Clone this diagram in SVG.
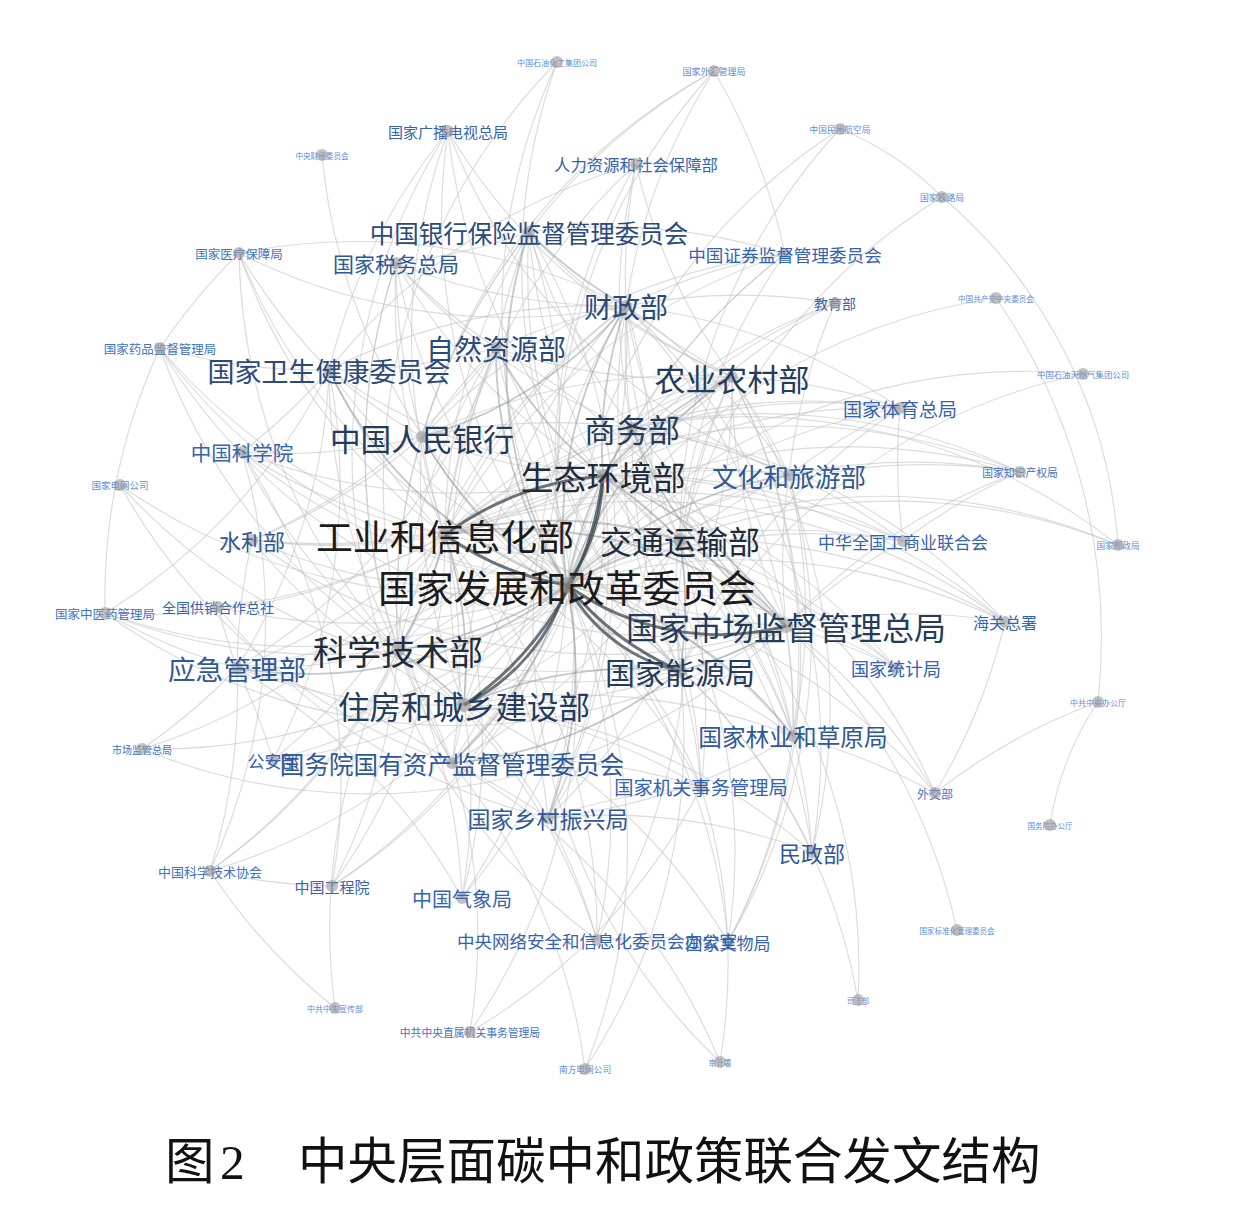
<svg xmlns="http://www.w3.org/2000/svg" width="1233" height="1205" viewBox="0 0 1233 1205">
<style>
#edges path{fill:none}
.l{stroke:#c4c4c4;stroke-opacity:.6;stroke-width:1.15}
.m{stroke:#8c959c;stroke-opacity:.5;stroke-width:1.8}
.h{stroke:#3c4850;stroke-opacity:.75;stroke-width:3}
.node circle{fill:#9a9a9a;fill-opacity:.6}
.node text{font-family:"Noto Sans CJK SC","Noto Sans",sans-serif;text-anchor:middle;dominant-baseline:central}
.t0{fill:#1b1b1b}.t1{fill:#1f2c3c}.t2{fill:#243b5c}.t3{fill:#2a4a7c}.t4{fill:#2f5898}.t5{fill:#3563b0}.t6{fill:#3f72c8}.t7{fill:#5b8ce0}
.cap{font-family:"Liberation Serif","Noto Sans CJK SC",serif;font-size:49.5px;fill:#111;dominant-baseline:central}
</style>
<rect width="1233" height="1205" fill="#fff"/>
<g id="edges">
<g class="l">
<path d="M567 585A600 600 0 0 1 396 263"/><path d="M567 585A600 600 0 0 1 785 254"/><path d="M567 585A600 600 0 0 1 900 408"/><path d="M567 585A600 600 0 0 1 903 541"/><path d="M567 585A600 600 0 0 1 701 787"/><path d="M567 585A600 600 0 0 1 812 852"/><path d="M567 585A600 600 0 0 1 462 898"/><path d="M567 585A600 600 0 0 1 597 940"/><path d="M567 585A600 600 0 0 1 728 942"/><path d="M567 585A600 600 0 0 1 252 540"/><path d="M567 585A600 600 0 0 1 242 452"/><path d="M567 585A600 600 0 0 1 218 607"/><path d="M567 585A600 600 0 0 1 105 613"/><path d="M567 585A600 600 0 0 1 273 760"/><path d="M567 585A600 600 0 0 1 896 668"/><path d="M567 585A600 600 0 0 1 1005 622"/><path d="M567 585A600 600 0 0 1 835 303"/><path d="M567 585A600 600 0 0 1 636 164"/><path d="M567 585A600 600 0 0 1 448 131"/><path d="M567 585A600 600 0 0 1 210 871"/><path d="M567 585A600 600 0 0 1 332 886"/><path d="M567 585A600 600 0 0 1 935 793"/><path d="M567 585A600 600 0 0 1 160 348"/><path d="M567 585A600 600 0 0 1 239 253"/><path d="M567 585A600 600 0 0 1 470 1032"/><path d="M567 585A600 600 0 0 1 142 749"/><path d="M567 585A600 600 0 0 1 557 62"/><path d="M567 585A600 600 0 0 1 714 71"/><path d="M567 585A600 600 0 0 1 840 129"/><path d="M567 585A600 600 0 0 1 996 298"/><path d="M567 585A600 600 0 0 1 1083 374"/><path d="M567 585A600 600 0 0 1 1020 472"/><path d="M567 585A600 600 0 0 1 1118 545"/><path d="M567 585A600 600 0 0 1 858 1000"/><path d="M567 585A600 600 0 0 1 585 1069"/><path d="M567 585A600 600 0 0 1 322 155"/><path d="M567 585A600 600 0 0 1 120 485"/>
<path d="M445 535A600 600 0 0 1 422 437"/><path d="M445 535A600 600 0 0 1 632 428"/><path d="M445 535A600 600 0 0 1 732 377"/><path d="M445 535A600 600 0 0 1 496 348"/><path d="M445 535A600 600 0 0 1 329 370"/><path d="M445 535A600 600 0 0 1 626 306"/><path d="M445 535A600 600 0 0 1 529 232"/><path d="M445 535A600 600 0 0 1 237 668"/><path d="M445 535A600 600 0 0 1 452 763"/><path d="M445 535A600 600 0 0 1 789 475"/><path d="M445 535A600 600 0 0 1 793 736"/><path d="M445 535A600 600 0 0 1 396 263"/><path d="M445 535A600 600 0 0 1 548 818"/><path d="M445 535A600 600 0 0 1 785 254"/><path d="M445 535A600 600 0 0 1 900 408"/><path d="M445 535A600 600 0 0 1 903 541"/><path d="M445 535A600 600 0 0 1 701 787"/><path d="M445 535A600 600 0 0 1 462 898"/><path d="M445 535A600 600 0 0 1 597 940"/><path d="M445 535A600 600 0 0 1 252 540"/><path d="M445 535A600 600 0 0 1 242 452"/><path d="M445 535A600 600 0 0 1 218 607"/><path d="M445 535A600 600 0 0 1 105 613"/><path d="M445 535A600 600 0 0 1 273 760"/><path d="M445 535A600 600 0 0 1 896 668"/><path d="M445 535A600 600 0 0 1 1005 622"/><path d="M445 535A600 600 0 0 1 636 164"/><path d="M445 535A600 600 0 0 1 448 131"/><path d="M445 535A600 600 0 0 1 210 871"/><path d="M445 535A600 600 0 0 1 332 886"/><path d="M445 535A600 600 0 0 1 160 348"/><path d="M445 535A600 600 0 0 1 239 253"/><path d="M445 535A600 600 0 0 1 142 749"/><path d="M445 535A600 600 0 0 1 1020 472"/>
<path d="M603 476A600 600 0 0 1 398 650"/><path d="M603 476A600 600 0 0 1 422 437"/><path d="M603 476A600 600 0 0 1 632 428"/><path d="M603 476A600 600 0 0 1 329 370"/><path d="M603 476A600 600 0 0 1 529 232"/><path d="M603 476A600 600 0 0 1 237 668"/><path d="M603 476A600 600 0 0 1 452 763"/><path d="M603 476A600 600 0 0 1 789 475"/><path d="M603 476A600 600 0 0 1 793 736"/><path d="M603 476A600 600 0 0 1 396 263"/><path d="M603 476A600 600 0 0 1 548 818"/><path d="M603 476A600 600 0 0 1 900 408"/><path d="M603 476A600 600 0 0 1 903 541"/><path d="M603 476A600 600 0 0 1 701 787"/><path d="M603 476A600 600 0 0 1 812 852"/><path d="M603 476A600 600 0 0 1 462 898"/><path d="M603 476A600 600 0 0 1 728 942"/><path d="M603 476A600 600 0 0 1 252 540"/><path d="M603 476A600 600 0 0 1 242 452"/><path d="M603 476A600 600 0 0 1 896 668"/><path d="M603 476A600 600 0 0 1 1005 622"/><path d="M603 476A600 600 0 0 1 835 303"/><path d="M603 476A600 600 0 0 1 448 131"/><path d="M603 476A600 600 0 0 1 332 886"/><path d="M603 476A600 600 0 0 1 935 793"/><path d="M603 476A600 600 0 0 1 858 1000"/>
<path d="M680 540A600 600 0 0 1 398 650"/><path d="M680 540A600 600 0 0 1 464 705"/><path d="M680 540A600 600 0 0 1 632 428"/><path d="M680 540A600 600 0 0 1 732 377"/><path d="M680 540A600 600 0 0 1 626 306"/><path d="M680 540A600 600 0 0 1 452 763"/><path d="M680 540A600 600 0 0 1 789 475"/><path d="M680 540A600 600 0 0 1 793 736"/><path d="M680 540A600 600 0 0 1 903 541"/><path d="M680 540A600 600 0 0 1 701 787"/><path d="M680 540A600 600 0 0 1 896 668"/><path d="M680 540A600 600 0 0 1 1005 622"/><path d="M680 540A600 600 0 0 1 840 129"/><path d="M680 540A600 600 0 0 1 942 197"/><path d="M680 540A600 600 0 0 1 1118 545"/><path d="M680 540A600 600 0 0 1 597 940"/>
<path d="M786 626A600 600 0 0 1 398 650"/><path d="M786 626A600 600 0 0 1 464 705"/><path d="M786 626A600 600 0 0 1 632 428"/><path d="M786 626A600 600 0 0 1 732 377"/><path d="M786 626A600 600 0 0 1 329 370"/><path d="M786 626A600 600 0 0 1 626 306"/><path d="M786 626A600 600 0 0 1 789 475"/><path d="M786 626A600 600 0 0 1 793 736"/><path d="M786 626A600 600 0 0 1 903 541"/><path d="M786 626A600 600 0 0 1 896 668"/><path d="M786 626A600 600 0 0 1 1005 622"/><path d="M786 626A600 600 0 0 1 1020 472"/><path d="M786 626A600 600 0 0 1 957 930"/><path d="M786 626A600 600 0 0 1 935 793"/><path d="M786 626A600 600 0 0 1 160 348"/><path d="M786 626A600 600 0 0 1 142 749"/><path d="M786 626A600 600 0 0 1 105 613"/><path d="M786 626A600 600 0 0 1 252 540"/>
<path d="M398 650A600 600 0 0 1 422 437"/><path d="M398 650A600 600 0 0 1 732 377"/><path d="M398 650A600 600 0 0 1 496 348"/><path d="M398 650A600 600 0 0 1 329 370"/><path d="M398 650A600 600 0 0 1 626 306"/><path d="M398 650A600 600 0 0 1 529 232"/><path d="M398 650A600 600 0 0 1 237 668"/><path d="M398 650A600 600 0 0 1 452 763"/><path d="M398 650A600 600 0 0 1 242 452"/><path d="M398 650A600 600 0 0 1 210 871"/><path d="M398 650A600 600 0 0 1 332 886"/><path d="M398 650A600 600 0 0 1 462 898"/><path d="M398 650A600 600 0 0 1 597 940"/><path d="M398 650A600 600 0 0 1 105 613"/><path d="M398 650A600 600 0 0 1 160 348"/><path d="M398 650A600 600 0 0 1 239 253"/><path d="M398 650A600 600 0 0 1 1020 472"/><path d="M398 650A600 600 0 0 1 396 263"/>
<path d="M464 705A600 600 0 0 1 422 437"/><path d="M464 705A600 600 0 0 1 732 377"/><path d="M464 705A600 600 0 0 1 496 348"/><path d="M464 705A600 600 0 0 1 626 306"/><path d="M464 705A600 600 0 0 1 237 668"/><path d="M464 705A600 600 0 0 1 452 763"/><path d="M464 705A600 600 0 0 1 793 736"/><path d="M464 705A600 600 0 0 1 548 818"/><path d="M464 705A600 600 0 0 1 701 787"/><path d="M464 705A600 600 0 0 1 812 852"/><path d="M464 705A600 600 0 0 1 252 540"/><path d="M464 705A600 600 0 0 1 462 898"/><path d="M464 705A600 600 0 0 1 273 760"/><path d="M464 705A600 600 0 0 1 728 942"/><path d="M464 705A600 600 0 0 1 789 475"/>
<path d="M680 671A600 600 0 0 1 422 437"/><path d="M680 671A600 600 0 0 1 632 428"/><path d="M680 671A600 600 0 0 1 732 377"/><path d="M680 671A600 600 0 0 1 496 348"/><path d="M680 671A600 600 0 0 1 626 306"/><path d="M680 671A600 600 0 0 1 529 232"/><path d="M680 671A600 600 0 0 1 793 736"/><path d="M680 671A600 600 0 0 1 785 254"/><path d="M680 671A600 600 0 0 1 701 787"/><path d="M680 671A600 600 0 0 1 557 62"/><path d="M680 671A600 600 0 0 1 1083 374"/><path d="M680 671A600 600 0 0 1 585 1069"/><path d="M680 671A600 600 0 0 1 120 485"/><path d="M680 671A600 600 0 0 1 900 408"/>
<path d="M422 437A600 600 0 0 1 632 428"/><path d="M422 437A600 600 0 0 1 732 377"/><path d="M422 437A600 600 0 0 1 496 348"/><path d="M422 437A600 600 0 0 1 529 232"/><path d="M422 437A600 600 0 0 1 396 263"/><path d="M422 437A600 600 0 0 1 785 254"/><path d="M422 437A600 600 0 0 1 714 71"/><path d="M422 437A600 600 0 0 1 329 370"/><path d="M422 437A600 600 0 0 1 252 540"/><path d="M422 437A600 600 0 0 1 242 452"/>
<path d="M632 428A600 600 0 0 1 732 377"/><path d="M632 428A600 600 0 0 1 626 306"/><path d="M632 428A600 600 0 0 1 529 232"/><path d="M632 428A600 600 0 0 1 789 475"/><path d="M632 428A600 600 0 0 1 793 736"/><path d="M632 428A600 600 0 0 1 396 263"/><path d="M632 428A600 600 0 0 1 785 254"/><path d="M632 428A600 600 0 0 1 900 408"/><path d="M632 428A600 600 0 0 1 903 541"/><path d="M632 428A600 600 0 0 1 1005 622"/><path d="M632 428A600 600 0 0 1 1020 472"/><path d="M632 428A600 600 0 0 1 1118 545"/><path d="M632 428A600 600 0 0 1 636 164"/><path d="M632 428A600 600 0 0 1 835 303"/>
<path d="M732 377A600 600 0 0 1 496 348"/><path d="M732 377A600 600 0 0 1 626 306"/><path d="M732 377A600 600 0 0 1 529 232"/><path d="M732 377A600 600 0 0 1 789 475"/><path d="M732 377A600 600 0 0 1 793 736"/><path d="M732 377A600 600 0 0 1 548 818"/><path d="M732 377A600 600 0 0 1 900 408"/><path d="M732 377A600 600 0 0 1 812 852"/><path d="M732 377A600 600 0 0 1 252 540"/><path d="M732 377A600 600 0 0 1 728 942"/><path d="M732 377A600 600 0 0 1 636 164"/><path d="M732 377A600 600 0 0 1 448 131"/>
<path d="M496 348A600 600 0 0 1 626 306"/><path d="M496 348A600 600 0 0 1 529 232"/><path d="M496 348A600 600 0 0 1 329 370"/><path d="M496 348A600 600 0 0 1 793 736"/><path d="M496 348A600 600 0 0 1 252 540"/><path d="M496 348A600 600 0 0 1 396 263"/><path d="M496 348A600 600 0 0 1 548 818"/><path d="M496 348A600 600 0 0 1 237 668"/>
<path d="M329 370A600 600 0 0 1 626 306"/><path d="M329 370A600 600 0 0 1 239 253"/><path d="M329 370A600 600 0 0 1 160 348"/><path d="M329 370A600 600 0 0 1 105 613"/><path d="M329 370A600 600 0 0 1 242 452"/><path d="M329 370A600 600 0 0 1 237 668"/><path d="M329 370A600 600 0 0 1 273 760"/><path d="M329 370A600 600 0 0 1 636 164"/><path d="M329 370A600 600 0 0 1 448 131"/>
<path d="M626 306A600 600 0 0 1 396 263"/><path d="M626 306A600 600 0 0 1 548 818"/><path d="M626 306A600 600 0 0 1 785 254"/><path d="M626 306A600 600 0 0 1 793 736"/><path d="M626 306A600 600 0 0 1 636 164"/><path d="M626 306A600 600 0 0 1 789 475"/><path d="M626 306A600 600 0 0 1 835 303"/><path d="M626 306A600 600 0 0 1 900 408"/><path d="M626 306A600 600 0 0 1 812 852"/><path d="M626 306A600 600 0 0 1 452 763"/><path d="M626 306A600 600 0 0 1 239 253"/><path d="M626 306A600 600 0 0 1 714 71"/>
<path d="M529 232A600 600 0 0 1 396 263"/><path d="M529 232A600 600 0 0 1 785 254"/><path d="M529 232A600 600 0 0 1 548 818"/><path d="M529 232A600 600 0 0 1 714 71"/><path d="M529 232A600 600 0 0 1 452 763"/>
<path d="M237 668A600 600 0 0 1 252 540"/><path d="M237 668A600 600 0 0 1 218 607"/><path d="M237 668A600 600 0 0 1 273 760"/><path d="M237 668A600 600 0 0 1 142 749"/><path d="M237 668A600 600 0 0 1 210 871"/><path d="M237 668A600 600 0 0 1 105 613"/><path d="M237 668A600 600 0 0 1 462 898"/><path d="M237 668A600 600 0 0 1 452 763"/>
<path d="M452 763A600 600 0 0 1 396 263"/><path d="M452 763A600 600 0 0 1 548 818"/><path d="M452 763A600 600 0 0 1 701 787"/><path d="M452 763A600 600 0 0 1 470 1032"/><path d="M452 763A600 600 0 0 1 585 1069"/><path d="M452 763A600 600 0 0 1 120 485"/><path d="M452 763A600 600 0 0 1 557 62"/><path d="M452 763A600 600 0 0 1 720 1062"/>
<path d="M789 475A600 600 0 0 1 900 408"/><path d="M789 475A600 600 0 0 1 728 942"/><path d="M789 475A600 600 0 0 1 835 303"/><path d="M789 475A600 600 0 0 1 448 131"/><path d="M789 475A600 600 0 0 1 793 736"/><path d="M789 475A600 600 0 0 1 1020 472"/>
<path d="M793 736A600 600 0 0 1 548 818"/><path d="M793 736A600 600 0 0 1 728 942"/><path d="M793 736A600 600 0 0 1 935 793"/><path d="M793 736A600 600 0 0 1 812 852"/>
<path d="M548 818A600 600 0 0 1 812 852"/><path d="M548 818A600 600 0 0 1 701 787"/><path d="M548 818A600 600 0 0 1 597 940"/><path d="M548 818A600 600 0 0 1 218 607"/>
<path d="M903 541A600 600 0 0 1 900 408"/><path d="M903 541A600 600 0 0 1 1020 472"/><path d="M1005 622A600 600 0 0 1 935 793"/><path d="M701 787A600 600 0 0 1 470 1032"/><path d="M701 787A600 600 0 0 1 720 1062"/><path d="M597 940A600 600 0 0 1 728 942"/><path d="M597 940A600 600 0 0 1 448 131"/><path d="M335 1008A600 600 0 0 1 210 871"/><path d="M335 1008A600 600 0 0 1 398 650"/><path d="M332 886A600 600 0 0 1 210 871"/><path d="M242 452A600 600 0 0 1 332 886"/><path d="M242 452A600 600 0 0 1 210 871"/><path d="M1098 702A300 300 0 0 0 1050 825"/><path d="M1098 702A600 600 0 0 0 935 793"/><path d="M840 129A300 300 0 0 1 942 197"/><path d="M942 197A500 500 0 0 1 1118 545"/><path d="M720 1062A600 600 0 0 1 626 306"/><path d="M996 298A600 600 0 0 1 1098 702"/><path d="M160 348A600 600 0 0 1 239 253"/><path d="M105 613A600 600 0 0 1 160 348"/><path d="M714 71A600 600 0 0 1 785 254"/><path d="M239 253A600 600 0 0 1 626 306"/>
</g>
<g class="m">
<path d="M567 585A420 420 0 0 1 632 428"/><path d="M567 585A420 420 0 0 1 732 377"/><path d="M567 585A420 420 0 0 1 626 306"/><path d="M567 585A420 420 0 0 1 422 437"/><path d="M567 585A420 420 0 0 1 496 348"/><path d="M567 585A420 420 0 0 1 329 370"/><path d="M567 585A420 420 0 0 1 237 668"/><path d="M567 585A420 420 0 0 1 452 763"/><path d="M567 585A420 420 0 0 1 793 736"/><path d="M567 585A420 420 0 0 1 548 818"/><path d="M567 585A420 420 0 0 1 789 475"/><path d="M567 585A420 420 0 0 1 529 232"/><path d="M567 585A420 420 0 0 1 398 650"/><path d="M567 585A420 420 0 0 1 680 540"/>
<path d="M445 535A420 420 0 0 1 398 650"/><path d="M445 535A420 420 0 0 1 464 705"/><path d="M445 535A420 420 0 0 1 786 626"/><path d="M445 535A420 420 0 0 1 680 540"/><path d="M603 476A420 420 0 0 1 680 540"/><path d="M603 476A420 420 0 0 1 786 626"/><path d="M603 476A420 420 0 0 1 732 377"/><path d="M603 476A420 420 0 0 1 496 348"/><path d="M603 476A420 420 0 0 1 626 306"/><path d="M680 540A420 420 0 0 1 786 626"/><path d="M680 540A420 420 0 0 1 680 671"/><path d="M464 705A420 420 0 0 1 680 671"/><path d="M398 650A420 420 0 0 1 464 705"/><path d="M786 626A420 420 0 0 1 680 671"/><path d="M626 306A420 420 0 0 1 422 437"/><path d="M626 306A420 420 0 0 1 529 232"/><path d="M680 671A420 420 0 0 1 452 763"/><path d="M786 626A420 420 0 0 1 632 428"/>
</g>
<g class="h">
<path d="M603 476A200 200 0 0 1 567 585"/><path d="M567 585A170 170 0 0 0 680 671"/><path d="M567 585A300 300 0 0 0 680 671"/><path d="M567 585A200 200 0 0 1 464 705"/><path d="M445 535A300 300 0 0 0 567 585"/><path d="M603 476A320 320 0 0 1 464 705"/><path d="M567 585A260 260 0 0 0 786 626"/><path d="M445 535A300 300 0 0 1 603 476"/>
</g>
</g>
<g id="nodes">
<g id="n-zycjwyh" class="node"><text class="t7" x="322" y="155" font-size="7.6">中央财经委员会</text><circle cx="322" cy="155" r="6"/></g>
<g id="n-zgshjt" class="node"><text class="t7" x="557" y="62" font-size="8">中国石油化工集团公司</text><circle cx="557" cy="62" r="6"/></g>
<g id="n-gjwhglj" class="node"><text class="t7" x="714" y="71" font-size="9">国家外汇管理局</text><circle cx="714" cy="71" r="6"/></g>
<g id="n-zgmyhkj" class="node"><text class="t7" x="840" y="129" font-size="8.7">中国民用航空局</text><circle cx="840" cy="129" r="6"/></g>
<g id="n-gjtlj" class="node"><text class="t7" x="942" y="197" font-size="8.8">国家铁路局</text><circle cx="942" cy="197" r="6"/></g>
<g id="n-zggcdzywyh" class="node"><text class="t7" x="996" y="298" font-size="7.6">中国共产党中央委员会</text><circle cx="996" cy="298" r="6"/></g>
<g id="n-zgsytrq" class="node"><text class="t7" x="1083" y="374" font-size="8.4">中国石油天然气集团公司</text><circle cx="1083" cy="374" r="6"/></g>
<g id="n-gjzscqj" class="node"><text class="t6" x="1020" y="472" font-size="10.8">国家知识产权局</text><circle cx="1020" cy="472" r="6"/></g>
<g id="n-gjyzj" class="node"><text class="t7" x="1118" y="545" font-size="8.6">国家邮政局</text><circle cx="1118" cy="545" r="6"/></g>
<g id="n-zgzybgt" class="node"><text class="t7" x="1098" y="702" font-size="8">中共中央办公厅</text><circle cx="1098" cy="702" r="6"/></g>
<g id="n-gwybgt" class="node"><text class="t7" x="1050" y="825" font-size="7.5">国务院办公厅</text><circle cx="1050" cy="825" r="6"/></g>
<g id="n-gjbzhwyh" class="node"><text class="t7" x="957" y="930" font-size="7.5">国家标准化管理委员会</text><circle cx="957" cy="930" r="6"/></g>
<g id="n-sfb" class="node"><text class="t7" x="858" y="1000" font-size="7.5">司法部</text><circle cx="858" cy="1000" r="6"/></g>
<g id="n-sjs" class="node"><text class="t7" x="720" y="1062" font-size="7.5">审计署</text><circle cx="720" cy="1062" r="6"/></g>
<g id="n-nfdw" class="node"><text class="t7" x="585" y="1069" font-size="8.7">南方电网公司</text><circle cx="585" cy="1069" r="6"/></g>
<g id="n-zgxcb" class="node"><text class="t7" x="335" y="1008" font-size="8">中共中央宣传部</text><circle cx="335" cy="1008" r="6"/></g>
<g id="n-gjdw" class="node"><text class="t7" x="120" y="485" font-size="9.5">国家电网公司</text><circle cx="120" cy="485" r="6"/></g>
<g id="n-zszsjg" class="node"><text class="t6" x="470" y="1032" font-size="10.8">中共中央直属机关事务管理局</text><circle cx="470" cy="1032" r="6"/></g>
<g id="n-scjgzj" class="node"><text class="t6" x="142" y="749" font-size="10">市场监管总局</text><circle cx="142" cy="749" r="6"/></g>
<g id="n-gjzyy" class="node"><text class="t6" x="105" y="613" font-size="12.5">国家中医药管理局</text><circle cx="105" cy="613" r="6"/></g>
<g id="n-gjyp" class="node"><text class="t6" x="160" y="348" font-size="12.5">国家药品监督管理局</text><circle cx="160" cy="348" r="6"/></g>
<g id="n-gjyb" class="node"><text class="t6" x="239" y="253" font-size="12.5">国家医疗保障局</text><circle cx="239" cy="253" r="6"/></g>
<g id="n-wjb" class="node"><text class="t6" x="935" y="793" font-size="12">外交部</text><circle cx="935" cy="793" r="6"/></g>
<g id="n-zgkx" class="node"><text class="t6" x="210" y="871" font-size="13">中国科学技术协会</text><circle cx="210" cy="871" r="6"/></g>
<g id="n-zggcy" class="node"><text class="t5" x="332" y="886" font-size="15">中国工程院</text><circle cx="332" cy="886" r="6"/></g>
<g id="n-gjgd" class="node"><text class="t5" x="448" y="131" font-size="15">国家广播电视总局</text><circle cx="448" cy="131" r="6"/></g>
<g id="n-rsb" class="node"><text class="t5" x="636" y="164" font-size="16.4">人力资源和社会保障部</text><circle cx="636" cy="164" r="6"/></g>
<g id="n-jyb" class="node"><text class="t5" x="835" y="303" font-size="14">教育部</text><circle cx="835" cy="303" r="6"/></g>
<g id="n-hgzs" class="node"><circle cx="1005" cy="622" r="6"/><text class="t5" x="1005" y="622" font-size="16">海关总署</text></g>
<g id="n-gjtjj" class="node"><circle cx="896" cy="668" r="6"/><text class="t5" x="896" y="668" font-size="18">国家统计局</text></g>
<g id="n-gxzs" class="node"><text class="t5" x="218" y="607" font-size="14">全国供销合作总社</text><circle cx="218" cy="607" r="6"/></g>
<g id="n-gab" class="node"><circle cx="273" cy="760" r="6"/><text class="t5" x="273" y="760" font-size="17">公安部</text></g>
<g id="n-zgkxy" class="node"><circle cx="242" cy="452" r="6"/><text class="t5" x="242" y="452" font-size="20.5">中国科学院</text></g>
<g id="n-slb" class="node"><circle cx="252" cy="540" r="6"/><text class="t4" x="252" y="540" font-size="22">水利部</text></g>
<g id="n-gjwwj" class="node"><circle cx="728" cy="942" r="6"/><text class="t5" x="728" y="942" font-size="17">国家文物局</text></g>
<g id="n-wxb" class="node"><circle cx="597" cy="940" r="6"/><text class="t5" x="597" y="940" font-size="17.5">中央网络安全和信息化委员会办公室</text></g>
<g id="n-zgqxj" class="node"><circle cx="462" cy="898" r="6"/><text class="t5" x="462" y="898" font-size="20">中国气象局</text></g>
<g id="n-mzb" class="node"><circle cx="812" cy="852" r="6"/><text class="t4" x="812" y="852" font-size="22">民政部</text></g>
<g id="n-jgsw" class="node"><circle cx="701" cy="787" r="6"/><text class="t5" x="701" y="787" font-size="19.3">国家机关事务管理局</text></g>
<g id="n-gsl" class="node"><circle cx="903" cy="541" r="6"/><text class="t5" x="903" y="541" font-size="17">中华全国工商业联合会</text></g>
<g id="n-gjty" class="node"><circle cx="900" cy="408" r="6"/><text class="t5" x="900" y="408" font-size="19">国家体育总局</text></g>
<g id="n-zjh" class="node"><circle cx="785" cy="254" r="6"/><text class="t5" x="785" y="254" font-size="17.6">中国证券监督管理委员会</text></g>
<g id="n-xczx" class="node"><circle cx="548" cy="818" r="6"/><text class="t4" x="548" y="818" font-size="23">国家乡村振兴局</text></g>
<g id="n-swzj" class="node"><circle cx="396" cy="263" r="6"/><text class="t4" x="396" y="263" font-size="21">国家税务总局</text></g>
<g id="n-lcj" class="node"><circle cx="793" cy="736" r="6"/><text class="t4" x="793" y="736" font-size="23.7">国家林业和草原局</text></g>
<g id="n-whly" class="node"><circle cx="789" cy="475" r="6"/><text class="t4" x="789" y="475" font-size="25.7">文化和旅游部</text></g>
<g id="n-gzw" class="node"><circle cx="452" cy="763" r="6"/><text class="t4" x="452" y="763" font-size="24.6">国务院国有资产监督管理委员会</text></g>
<g id="n-yjb" class="node"><circle cx="237" cy="668" r="6"/><text class="t4" x="237" y="668" font-size="27.6">应急管理部</text></g>
<g id="n-ybj" class="node"><circle cx="529" cy="232" r="6"/><text class="t3" x="529" y="232" font-size="24.5">中国银行保险监督管理委员会</text></g>
<g id="n-czb" class="node"><circle cx="626" cy="306" r="6"/><text class="t3" x="626" y="306" font-size="28">财政部</text></g>
<g id="n-wjw" class="node"><circle cx="329" cy="370" r="6"/><text class="t3" x="329" y="370" font-size="27">国家卫生健康委员会</text></g>
<g id="n-zrzy" class="node"><circle cx="496" cy="348" r="6"/><text class="t3" x="496" y="348" font-size="28">自然资源部</text></g>
<g id="n-nync" class="node"><circle cx="732" cy="377" r="6"/><text class="t2" x="732" y="377" font-size="31">农业农村部</text></g>
<g id="n-swb" class="node"><circle cx="632" cy="428" r="6"/><text class="t2" x="632" y="428" font-size="32">商务部</text></g>
<g id="n-rmyh" class="node"><circle cx="422" cy="437" r="6"/><text class="t2" x="422" y="437" font-size="30.7">中国人民银行</text></g>
<g id="n-nyj" class="node"><circle cx="680" cy="671" r="7"/><text class="t2" x="680" y="671" font-size="30">国家能源局</text></g>
<g id="n-zjb" class="node"><circle cx="464" cy="705" r="7"/><text class="t2" x="464" y="705" font-size="31.5">住房和城乡建设部</text></g>
<g id="n-kjb" class="node"><circle cx="398" cy="650" r="7"/><text class="t1" x="398" y="650" font-size="34">科学技术部</text></g>
<g id="n-scjg" class="node"><circle cx="786" cy="626" r="7"/><text class="t2" x="786" y="626" font-size="32">国家市场监督管理总局</text></g>
<g id="n-jtb" class="node"><circle cx="680" cy="540" r="7"/><text class="t1" x="680" y="540" font-size="32">交通运输部</text></g>
<g id="n-sthj" class="node"><circle cx="603" cy="476" r="7"/><text class="t1" x="603" y="476" font-size="33">生态环境部</text></g>
<g id="n-gxb" class="node"><circle cx="445" cy="535" r="7"/><text class="t0" x="445" y="535" font-size="36.9">工业和信息化部</text></g>
<g id="n-fgw" class="node"><circle cx="567" cy="585" r="8"/><text class="t0" x="567" y="585" font-size="37.8">国家发展和改革委员会</text></g>
</g>
<g id="caption">
<text class="cap" x="165" y="1162">图</text>
<text class="cap" x="220" y="1162">2</text>
<text class="cap" x="298" y="1162">中央层面碳中和政策联合发文结构</text>
</g>
</svg>
